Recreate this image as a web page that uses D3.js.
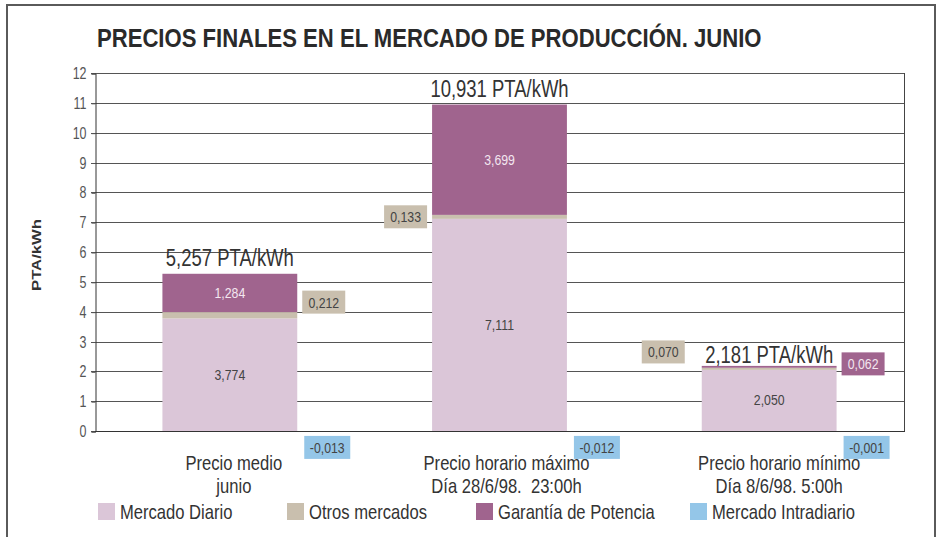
<!DOCTYPE html>
<html>
<head>
<meta charset="utf-8">
<script src="https://cdn.jsdelivr.net/npm/d3@7"></script>
<style>
  body { margin: 0; background: #fff; }
  svg text { font-family: "Liberation Sans", Arial, sans-serif; }
</style>
</head>
<body>
<div id="chart"></div>
<script>
const categories = ["Precio medio|junio", "Precio horario máximo|Día 28/6/98.  23:00h", "Precio horario mínimo|Día 8/6/98. 5:00h"];
const series = ["Mercado Diario", "Otros mercados", "Garantía de Potencia", "Mercado Intradiario"];
const mercadoDiario = [3.774, 7.111, 2.050];
const otrosMercados = [0.212, 0.133, 0.070];
const garantiaPotencia = [1.284, 3.699, 0.062];
const mercadoIntradiario = [-0.013, -0.012, -0.001];
const totals = [5.257, 10.931, 2.181];
const yTicks = [0, 1, 2, 3, 4, 5, 6, 7, 8, 9, 10, 11, 12];
const colors = ["#dbc6d8", "#c9bfae", "#a0648e", "#94c6e8"];

const fmt = v => d3.format(".3f")(v).replace(".", ",").replace("−", "-");

// condensed look: scale each text horizontally around its anchor point
function squeeze(sel, k) {
  sel.each(function () {
    const t = d3.select(this);
    const tx = +t.attr("x") || 0, ty = +t.attr("y") || 0;
    t.attr("x", 0).attr("y", 0).attr("transform", `translate(${tx},${ty}) scale(${k},1)`);
  });
}

const W = 941, H = 537;
const svg = d3.select("#chart").append("svg").attr("width", W).attr("height", H);

// outer frame
svg.append("path")
  .attr("d", `M7,${H + 5}V5H935V${H + 5}`)
  .attr("fill", "none").attr("stroke", "#5a5a5a").attr("stroke-width", 2);

svg.append("text")
  .attr("x", 97).attr("y", 47)
  .attr("font-size", 26).attr("font-weight", "bold").attr("fill", "#2a2a2a")
  .text("PRECIOS FINALES EN EL MERCADO DE PRODUCCIÓN. JUNIO")
  .each(function () {
    const k = 665 / this.getComputedTextLength();
    squeeze(d3.select(this), k);
  });

const x = d3.scaleBand().domain(categories).range([95, 904]).paddingInner(0.5).paddingOuter(0.25);
const y = d3.scaleLinear().domain([0, 12]).range([431, 73]);

// gridlines
svg.append("g").selectAll("line").data(yTicks).join("line")
  .attr("x1", 91).attr("x2", 904)
  .attr("y1", d => Math.round(y(d)) + 0.5).attr("y2", d => Math.round(y(d)) + 0.5)
  .attr("stroke", "#555").attr("stroke-width", 1);

// y axis
const yAxis = svg.append("g").attr("transform", "translate(95.5,0.5)")
  .call(d3.axisLeft(y).tickValues(yTicks).tickSize(4).tickPadding(5).tickFormat(d3.format("d")));
yAxis.select(".domain").attr("stroke", "#333");
yAxis.selectAll(".tick line").attr("stroke", "#555");
yAxis.selectAll("text").attr("font-size", 16).attr("fill", "#555")
  .style("font-family", '"Liberation Sans", Arial, sans-serif')
  .call(squeeze, 0.78);

svg.append("line").attr("x1", 904.5).attr("x2", 904.5).attr("y1", y(12)).attr("y2", y(0) + 0.5)
  .attr("stroke", "#444");

svg.append("text")
  .attr("transform", `translate(41,255) rotate(-90)`)
  .attr("text-anchor", "middle").attr("font-size", 13).attr("font-weight", "bold").attr("fill", "#333")
  .attr("textLength", 72).attr("lengthAdjust", "spacingAndGlyphs")
  .text("PTA/kWh");

// stacked bars
const rows = categories.map((c, i) => ({
  cat: c,
  vals: [mercadoDiario[i], otrosMercados[i], garantiaPotencia[i]],
  neg: mercadoIntradiario[i],
  total: totals[i]
}));

const bars = svg.append("g");
rows.forEach(r => {
  let base = 0;
  r.vals.forEach((v, k) => {
    bars.append("rect")
      .attr("x", x(r.cat)).attr("width", x.bandwidth())
      .attr("y", y(base + v)).attr("height", y(base) - y(base + v))
      .attr("fill", colors[k]);
    base += v;
  });
  bars.append("rect")
    .attr("x", x(r.cat)).attr("width", x.bandwidth())
    .attr("y", y(0)).attr("height", y(r.neg) - y(0))
    .attr("fill", colors[3]);
});

// axis baseline
svg.append("line").attr("x1", 95).attr("x2", 905).attr("y1", Math.round(y(0)) + 0.5).attr("y2", Math.round(y(0)) + 0.5)
  .attr("stroke", "#333");

// labels inside segments and totals
const inner = svg.append("g").attr("font-size", 15).attr("text-anchor", "middle");
const totalG = svg.append("g").attr("font-size", 24).attr("text-anchor", "middle").attr("fill", "#333");
rows.forEach((r, i) => {
  const cx = x(r.cat) + x.bandwidth() / 2;
  inner.append("text").attr("x", cx).attr("y", y(r.vals[0] / 2) + 5)
    .attr("fill", "#444").text(fmt(r.vals[0]));
  if (i < 2) {
    const mid = r.vals[0] + r.vals[1] + r.vals[2] / 2;
    inner.append("text").attr("x", cx).attr("y", y(mid) + 5)
      .attr("fill", "#f3e6f0").text(fmt(r.vals[2]));
  }
  totalG.append("text").attr("x", cx).attr("y", y(r.total) - (i === 2 ? 3 : 8))
    .text(fmt(r.total) + " PTA/kWh");
});
inner.selectAll("text").call(squeeze, 0.82);
totalG.selectAll("text").call(squeeze, 0.77);

// boxed labels: [row, series index, side, y-value of box centre]
const boxes = [
  [0, 1, "right", 4.32], [1, 1, "left", 7.18], [2, 1, "left", 2.65], [2, 2, "right", 2.25],
  [0, 3, "right", -0.55], [1, 3, "right", -0.55], [2, 3, "right", -0.55]
];
boxes.forEach(([ri, si, side, yv]) => {
  const r = rows[ri];
  const v = si === 3 ? r.neg : r.vals[si];
  const bw = si === 3 ? 46 : 43, bh = 23;
  let bx;
  if (si === 3) bx = x(r.cat) + x.bandwidth() + 7;
  else if (side === "right") bx = x(r.cat) + x.bandwidth() + 5;
  else bx = x(r.cat) - bw - 5 - (ri === 2 ? 12 : 0);
  const by = y(yv) - bh / 2;
  svg.append("rect").attr("x", bx).attr("y", by).attr("width", bw).attr("height", bh).attr("fill", colors[si]);
  svg.append("text").attr("x", bx + bw / 2).attr("y", by + bh / 2 + 5.5)
    .attr("text-anchor", "middle").attr("font-size", 15)
    .attr("fill", si === 2 ? "#f3e6f0" : "#444").text(fmt(v))
    .call(squeeze, 0.82);
});

// category labels
const catG = svg.append("g").attr("font-size", 20).attr("fill", "#333").attr("text-anchor", "middle");
categories.forEach((c, i) => {
  const cx = x(c) + x.bandwidth() / 2 + 4 + i * 3;
  c.split("|").forEach((line, j) => {
    catG.append("text").attr("x", cx).attr("y", 470 + j * 23).attr("xml:space", "preserve").text(line);
  });
});
catG.selectAll("text").call(squeeze, 0.83);

// legend
const legendX = [98, 287, 476, 690];
const lg = svg.append("g");
series.forEach((s, i) => {
  lg.append("rect").attr("x", legendX[i]).attr("y", 503).attr("width", 17).attr("height", 17).attr("fill", colors[i]);
  lg.append("text").attr("x", legendX[i] + 22).attr("y", 519).attr("font-size", 20).attr("fill", "#333").text(s);
});
lg.selectAll("text").call(squeeze, 0.83);
</script>
</body>
</html>
